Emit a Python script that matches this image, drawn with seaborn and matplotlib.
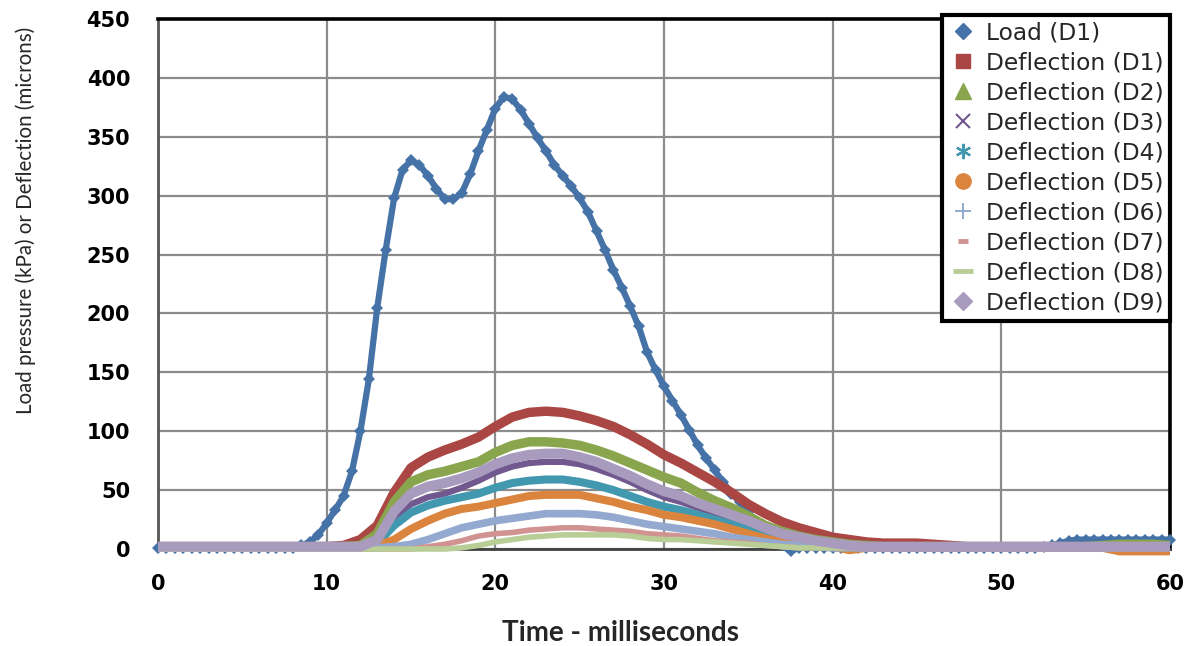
import matplotlib
matplotlib.use("Agg")
import matplotlib.pyplot as plt
from matplotlib.lines import Line2D
import numpy as np
import pandas as pd
import seaborn as sns

# ---------------- data ----------------
t_load = [i * 0.5 for i in range(121)]
load_d1 = [1, 1, 1, 1, 1, 1, 1, 1, 1, 1, 1, 1, 1, 1, 1, 1, 1,      # 0 - 8.0
           3, 6, 12, 22, 33, 45, 66, 100, 144, 205, 254, 298, 322,  # 8.5 - 14.5
           330, 326, 317, 306, 297, 297, 302, 318, 338, 356,        # 15 - 19.5
           374, 384, 382, 373, 361, 349, 338, 326, 317, 308,        # 20 - 24.5
           298, 286, 270, 254, 237, 222, 206, 189, 167, 152,        # 25 - 29.5
           138, 126, 114, 101, 88, 77, 67, 57, 47, 40,              # 30 - 34.5
           31, 23, 16, 9, 3, -2, 1, 1, 1, 1,                        # 35 - 39.5
           1, 1, 1, 1, 1, 1, 1, 1, 1, 1,                            # 40 - 44.5
           1, 1, 1, 1, 1, 1, 1, 1, 1, 1,                            # 45 - 49.5
           1, 1, 1, 1, 1, 2, 3, 5, 7, 8,                            # 50 - 54.5
           8, 8, 8, 8, 8, 8, 8, 8, 8, 8, 8]                         # 55 - 60

t_defl = list(range(61))
defl_d1 = [2]*11 + [3, 8, 20, 48, 69, 78, 84, 89, 95, 104, 112, 116, 117, 116, 113,
                    109, 104, 97, 89, 80, 73, 65, 57, 48, 38, 30, 23, 18, 14, 10,
                    8, 6, 5, 5, 5, 4, 3] + [2]*13
defl_d2 = [2]*12 + [3, 13, 40, 57, 63, 66, 70, 74, 82, 88, 91, 91, 90, 88, 84, 79,
                    73, 67, 61, 56, 48, 41, 35, 28, 20, 15, 11, 8, 6, 4, 3] + \
          [2]*13 + [3, 4, 4, 4, 3]
defl_d3 = [2]*13 + [6, 27, 38, 44, 47, 52, 58, 65, 70, 73, 74, 74, 72, 68, 63, 57,
                    50, 44, 40, 35, 30, 25, 20, 15, 11, 8, 5, 3] + [2]*20
defl_d4 = [2]*13 + [5, 20, 31, 37, 41, 44, 47, 52, 56, 58, 59, 59, 57, 54, 50, 45,
                    40, 36, 33, 29, 25, 21, 17, 12, 8, 5, 3] + [2]*21
defl_d5 = [2]*13 + [3, 8, 17, 24, 30, 34, 36, 39, 42, 45, 46, 46, 46, 43, 40, 36,
                    33, 29, 27, 24, 21, 17, 13, 9, 6, 4, 3, 2, -1] + [1]*15 + \
          [-2, -2, -2, -2]
defl_d6 = [1]*14 + [2, 4, 8, 13, 18, 21, 24, 26, 28, 30, 30, 30, 29, 27, 24, 21,
                    19, 17, 15, 13, 10, 8, 6, 4, 3, 2] + [1]*21
defl_d7 = [0]*16 + [2, 4, 7, 11, 13, 14, 16, 17, 18, 18, 17, 16, 15, 13, 12, 11,
                    9, 7, 6, 5, 3, 2] + [1]*23
defl_d8 = [0]*18 + [1, 3, 6, 8, 10, 11, 12, 12, 12, 12, 11, 9, 8, 8, 7, 6, 5, 4,
                    3, 2] + [1]*23
defl_d9 = [2]*13 + [8, 32, 47, 53, 56, 60, 65, 72, 77, 80, 81, 81, 78, 74, 68, 62,
                    55, 49, 45, 39, 34, 29, 24, 18, 13, 10, 7, 5, 3] + [2]*19

series_labels = ["Load (D1)", "Deflection (D1)", "Deflection (D2)", "Deflection (D3)",
                 "Deflection (D4)", "Deflection (D5)", "Deflection (D6)",
                 "Deflection (D7)", "Deflection (D8)", "Deflection (D9)"]
x_ticks = [0, 10, 20, 30, 40, 50, 60]
y_ticks = [0, 50, 100, 150, 200, 250, 300, 350, 400, 450]

# ---------------- styling ----------------
colors = ["#4572A7", "#AA4643", "#89A54E", "#71588F", "#4198AF",
          "#DB843D", "#93A9CF", "#D19392", "#B9CD96", "#A99BBD"]
band_w = [None, 6.8, 6.8, 4.5, 5.8, 5.8, 5.5, 4.0, 4.0, 7.2]

sns.set_theme(style="white")
plt.rcParams["font.family"] = ["DejaVu Sans"]

fig = plt.figure(figsize=(11.95, 6.46), dpi=100)
ax = fig.add_axes([158 / 1195, 1 - 549 / 646, (1170 - 158) / 1195, (549 - 19) / 646])

# Load curve: diamonds joined by a line
df_load = pd.DataFrame({"t": t_load, "v": load_d1})
sns.lineplot(data=df_load, x="t", y="v", ax=ax, color=colors[0], linewidth=4.5,
             marker="D", markersize=6, markeredgewidth=0, sort=False,
             legend=False, clip_on=False, zorder=3)

defl = [defl_d1, defl_d2, defl_d3, defl_d4, defl_d5, defl_d6, defl_d7, defl_d8, defl_d9]
for i, vals in enumerate(defl, start=1):
    df = pd.DataFrame({"t": t_defl, "v": vals})
    sns.lineplot(data=df, x="t", y="v", ax=ax, color=colors[i], linewidth=band_w[i],
                 sort=False, legend=False, clip_on=False, zorder=3 + i,
                 solid_capstyle="butt")

ax.set_xlim(0, 60)
ax.set_ylim(0, 450)
ax.set_xticks(x_ticks)
ax.set_yticks(y_ticks)
ax.set_xticklabels([str(v) for v in x_ticks], fontsize=15, fontweight="bold")
ax.set_yticklabels([str(v) for v in y_ticks], fontsize=15, fontweight="bold")
ax.tick_params(axis="both", length=0, colors="black")
ax.tick_params(axis="y", pad=20)
ax.tick_params(axis="x", pad=18)

ax.grid(True, color="#8c8c8c", linewidth=1.6)
ax.set_axisbelow(True)

ax.spines["left"].set_color("#555555")
ax.spines["left"].set_linewidth(2.0)
ax.spines["bottom"].set_color("#404040")
ax.spines["bottom"].set_linewidth(2.0)
ax.spines["top"].set_color("black")
ax.spines["top"].set_linewidth(2.6)
ax.spines["right"].set_color("black")
ax.spines["right"].set_linewidth(2.6)

ax.set_xlabel("Time - milliseconds", fontsize=20, fontweight="bold",
              family=["Lato", "DejaVu Sans"])
ax.set_ylabel("Load pressure (kPa) or Deflection (microns)", fontsize=14.8,
              family=["Lato", "DejaVu Sans"])
ax.xaxis.set_label_coords((620 - 158) / 1012, (549 - 620) / 530)
ax.yaxis.set_label_coords((36 - 158) / 1012, (549 - 220) / 530)

# Legend
handles = [
    Line2D([], [], ls="none", marker="D", color=colors[0], markersize=8),
    Line2D([], [], ls="none", marker="s", color=colors[1], markersize=10),
    Line2D([], [], ls="none", marker="^", color=colors[2], markersize=11),
    Line2D([], [], ls="none", marker="x", color=colors[3], markersize=10, markeredgewidth=1.5),
    Line2D([], [], ls="none", marker=(6, 2, 0), color=colors[4], markersize=11, markeredgewidth=1.6),
    Line2D([], [], ls="none", marker="o", color=colors[5], markersize=11),
    Line2D([], [], ls="none", marker="+", color=colors[6], markersize=12, markeredgewidth=1.4),
    Line2D([], [], ls="none", marker="_", color=colors[7], markersize=7, markeredgewidth=3.5),
    Line2D([], [], ls="none", marker="_", color=colors[8], markersize=14, markeredgewidth=3.5),
    Line2D([], [], ls="none", marker="D", color=colors[9], markersize=9),
]
leg = fig.legend(handles, series_labels, loc="upper left",
                 bbox_to_anchor=(942 / 1195, 1 - 15 / 646), fontsize=16.8,
                 frameon=True, fancybox=False, framealpha=1, edgecolor="black",
                 handlelength=1.2, handletextpad=0.4, labelspacing=0.3,
                 borderpad=0.28, borderaxespad=0)
leg.get_frame().set_linewidth(3)
leg.set_zorder(20)

fig.savefig("out.png", dpi=100)
